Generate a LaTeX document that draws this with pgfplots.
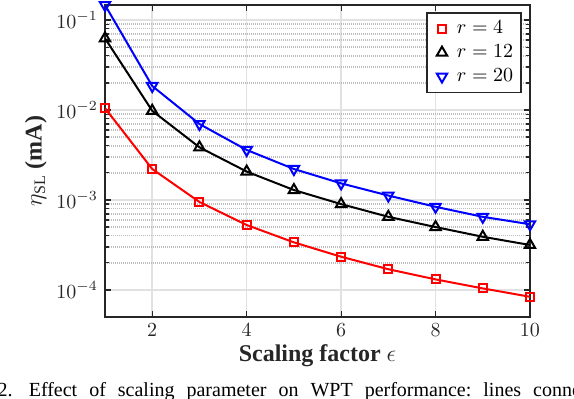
\documentclass[border=0pt]{standalone}
\usepackage{fontspec}
\setmainfont{Liberation Serif}
\usepackage{pgfplots}
\pgfplotsset{compat=1.18}

\definecolor{axgray}{RGB}{38,38,38}
\definecolor{majgrid}{RGB}{225,225,225}
\definecolor{mingrid}{RGB}{190,190,190}

\begin{document}
\begin{tikzpicture}
\begin{semilogyaxis}[
    name=ax,
    scale only axis,
    width=212.5pt,
    height=156pt,
    xmin=1, xmax=10,
    ymin=5e-5, ymax=0.147,
    xtick={2,4,6,8,10},
    ytick={1e-4,1e-3,1e-2,1e-1},
    tick align=inside,
    tick pos=both,
    major tick length=3pt,
    minor tick length=1.8pt,
    every tick/.style={axgray, line width=0.6pt},
    axis line style={axgray, line width=0.9pt},
    grid=both,
    major grid style={majgrid, line width=0.75pt},
    minor grid style={mingrid, dash pattern=on 0.5pt off 0.5pt, line width=0.7pt},
    minor x tick num=0,
    tick label style={font=\normalsize, text=axgray},
    xlabel={\textbf{Scaling factor} $\epsilon$},
    ylabel={$\eta_{\mathrm{SL}}$ \textbf{(mA)}},
    label style={font=\large, text=axgray},
    xlabel style={yshift=3pt},
    ylabel style={yshift=-2pt},
    legend style={at={(rel axis cs:1,1)}, xshift=-4pt, yshift=-3.5pt,
        anchor=north east, draw=axgray, line width=0.8pt, fill=white,
        font=\normalsize, row sep=0pt, inner sep=2pt},
    legend cell align=left,
    legend image code/.code={\path (0cm,0cm) (0.35cm,0cm);
        \draw[only marks, mark repeat=2, mark phase=2]
        plot coordinates {(0cm,0cm) (0.175cm,0cm) (0.35cm,0cm)};},
    every axis plot/.append style={line width=1pt},
]
\addplot[red, mark=square, mark size=2pt, mark options={solid}] coordinates {
    (1,1.05e-2) (2,2.21e-3) (3,9.5e-4) (4,5.27e-4) (5,3.38e-4)
    (6,2.34e-4) (7,1.70e-4) (8,1.31e-4) (9,1.04e-4) (10,8.4e-5)
};
\addplot[black, mark=triangle, mark size=3pt, mark options={solid}] coordinates {
    (1,6.26e-2) (2,9.8e-3) (3,3.85e-3) (4,2.07e-3) (5,1.29e-3)
    (6,9.0e-4) (7,6.5e-4) (8,5.0e-4) (9,3.9e-4) (10,3.16e-4)
};
\addplot[blue, mark=triangle, mark size=3pt, mark options={solid, rotate=180}] coordinates {
    (1,1.47e-1) (2,1.85e-2) (3,6.99e-3) (4,3.6e-3) (5,2.21e-3)
    (6,1.53e-3) (7,1.12e-3) (8,8.4e-4) (9,6.5e-4) (10,5.37e-4)
};
\legend{$r=4$, $r=12$, $r=20$}
\end{semilogyaxis}
\node[anchor=base east, inner sep=0pt] at ([xshift=-46pt, yshift=-39.5pt]ax.south west) {Fig.~2.};
\node[anchor=base west, inner sep=0pt] at ([xshift=-38.3pt, yshift=-39.5pt]ax.south west)
    {Effect\hspace{0.6em}of\hspace{0.6em}scaling\hspace{0.6em}parameter\hspace{0.6em}on\hspace{0.6em}WPT\hspace{0.6em}performance:\hspace{0.6em}lines\hspace{0.6em}connect};
\pgfresetboundingbox
\path[use as bounding box] ([xshift=-52.5pt, yshift=-40.5pt]ax.south west)
    rectangle ([xshift=22pt, yshift=2.5pt]ax.north east);
\end{tikzpicture}
\end{document}
